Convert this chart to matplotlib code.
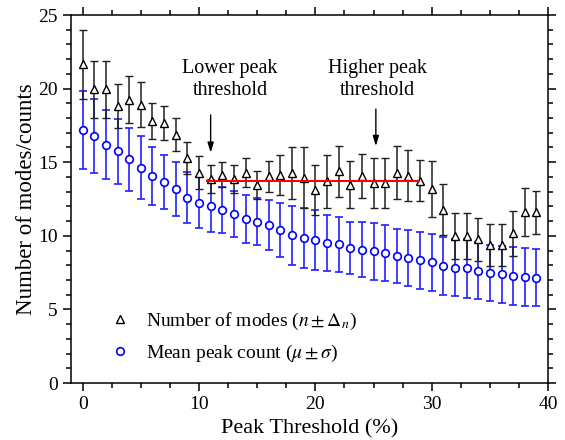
import numpy as np
import matplotlib
matplotlib.use("Agg")
import matplotlib.pyplot as plt
from matplotlib.lines import Line2D
from matplotlib.ticker import MultipleLocator

# Umbral de pico (%)
umbral = list(range(40))

# Número de modos (n ± Δn)
n_modos = [21.64, 19.94, 19.94, 18.80, 19.26, 18.92, 17.82, 17.67, 16.87, 15.28,
           14.30, 13.85, 14.14, 13.85, 14.30, 13.46, 14.03, 14.14, 14.26, 13.96,
           13.10, 13.69, 14.37, 13.46, 14.07, 13.57, 13.57, 14.30, 14.07, 13.73,
           13.16, 11.78, 9.98, 9.98, 9.75, 9.37, 9.37, 10.16, 11.60, 11.60]
delta_n = [2.34, 1.96, 1.93, 1.48, 1.59, 1.54, 1.21, 1.18, 1.11, 1.06,
           1.09, 0.97, 0.85, 0.97, 0.98, 0.97, 1.07, 1.36, 1.74, 2.04,
           1.70, 1.81, 1.70, 1.59, 1.50, 1.71, 1.71, 1.77, 1.73, 1.39,
           1.89, 1.73, 1.55, 1.55, 1.44, 1.43, 1.43, 1.55, 1.63, 1.45]

# Recuento medio de picos (mu ± sigma)
mu = [17.20, 16.80, 16.19, 15.73, 15.21, 14.64, 14.07, 13.64, 13.19, 12.59,
      12.26, 12.03, 11.75, 11.46, 11.12, 10.96, 10.73, 10.39, 10.05, 9.82,
      9.71, 9.53, 9.43, 9.18, 9.07, 8.96, 8.84, 8.64, 8.50, 8.34,
      8.19, 7.95, 7.84, 7.78, 7.64, 7.48, 7.39, 7.27, 7.20, 7.16]
sigma = [2.67, 2.50, 2.34, 2.20, 2.14, 2.16, 1.98, 1.84, 1.82, 1.74,
         1.76, 1.76, 1.55, 1.57, 1.64, 1.59, 1.71, 1.86, 2.00, 2.04,
         2.01, 1.91, 1.88, 1.79, 1.87, 1.94, 1.91, 1.84, 1.91, 1.93,
         1.94, 1.95, 1.95, 1.98, 1.96, 1.91, 1.93, 2.00, 1.97, 1.96]

# Meseta entre umbrales
meseta_x = [10.6, 29.0]
meseta_y = 13.75

plt.rcParams['font.family'] = ['Liberation Serif', 'DejaVu Serif']
plt.rcParams['mathtext.fontset'] = 'stix'

fig = plt.figure(figsize=(5.65, 4.4), dpi=100)
ax = fig.add_axes([0.1257, 0.1295, 0.8443, 0.8364])

# Barras de error
ax.errorbar(umbral, mu, yerr=sigma, fmt='o', ms=5.5, mfc='white', mec='#0000ff',
            mew=1.2, ecolor='#2020ff', elinewidth=1.2, capsize=3, capthick=1.2, zorder=3)
ax.errorbar(umbral, n_modos, yerr=delta_n, fmt='^', ms=6, mfc='white', mec='black',
            mew=1.0, ecolor='#202020', elinewidth=1.1, capsize=3, capthick=1.1, zorder=4)

ax.hlines(meseta_y, meseta_x[0], meseta_x[1], color='red', lw=1.5, zorder=5)

# Flechas y textos
ax.annotate('', xy=(11.0, 15.45), xytext=(11.0, 18.4),
            arrowprops=dict(arrowstyle='-|>,head_length=0.6,head_width=0.18',
                            color='black', lw=1))
ax.text(12.67, 20.6, 'Lower peak\nthreshold', ha='center', va='center',
        fontsize=14.5, linespacing=1.2)
ax.annotate('', xy=(25.2, 15.9), xytext=(25.2, 18.8),
            arrowprops=dict(arrowstyle='-|>,head_length=0.6,head_width=0.18',
                            color='black', lw=1))
ax.text(25.33, 20.63, 'Higher peak\nthreshold', ha='center', va='center',
        fontsize=14.5, linespacing=1.2)

ax.set_xlim(-1, 40)
ax.set_ylim(0, 25)
ax.xaxis.set_major_locator(MultipleLocator(10))
ax.xaxis.set_minor_locator(MultipleLocator(2.5))
ax.yaxis.set_major_locator(MultipleLocator(5))
ax.yaxis.set_minor_locator(MultipleLocator(1))
ax.tick_params(which='both', direction='out', top=True, right=True, width=1.1)
ax.tick_params(which='major', length=6, labelsize=14)
ax.tick_params(which='minor', length=3.5)
for s in ax.spines.values():
    s.set_linewidth(1.1)

ax.set_xlabel('Peak Threshold (%)', fontsize=16, labelpad=4)
ax.set_ylabel('Number of modes/counts', fontsize=16.5, labelpad=1)

# Leyenda
handles = [Line2D([], [], ls='none', marker='^', ms=6, mfc='white', mec='black', mew=1.0),
           Line2D([], [], ls='none', marker='o', ms=5.5, mfc='white', mec='#0000ff', mew=1.2)]
labels = [r'Number of modes ($n\pm\Delta_n$)', r'Mean peak count ($\mu\pm\sigma$)']
ax.legend(handles, labels, loc='lower left', bbox_to_anchor=(0.035, 0.005),
          frameon=False, fontsize=14, handlelength=1.5, handletextpad=0.6,
          labelspacing=0.55)

fig.savefig('out.png', dpi=100)
